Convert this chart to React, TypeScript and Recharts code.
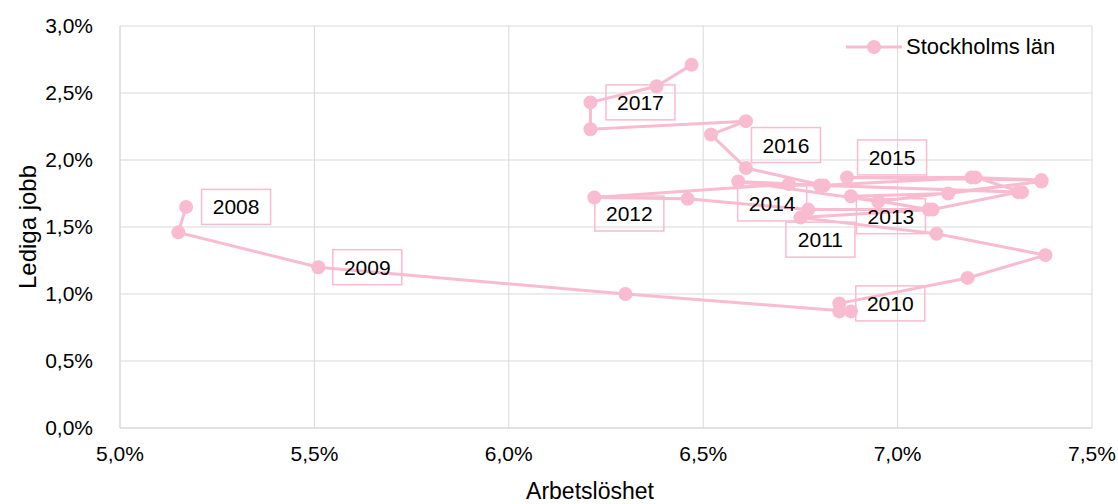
import React from 'react';
import { ScatterChart, Scatter, XAxis, YAxis, CartesianGrid, Legend } from 'recharts';

const PINK = '#F8BBD0';
const GRID = '#D9D9D9';
const FONT = '"Liberation Sans", Arial, sans-serif';

// one point per quarter, 2008 K3 .. 2017 K3
const periods = [
  '2008 K3', '2008 K4',
  '2009 K1', '2009 K2', '2009 K3', '2009 K4',
  '2010 K1', '2010 K2', '2010 K3', '2010 K4',
  '2011 K1', '2011 K2', '2011 K3', '2011 K4',
  '2012 K1', '2012 K2', '2012 K3', '2012 K4',
  '2013 K1', '2013 K2', '2013 K3', '2013 K4',
  '2014 K1', '2014 K2', '2014 K3', '2014 K4',
  '2015 K1', '2015 K2', '2015 K3', '2015 K4',
  '2016 K1', '2016 K2', '2016 K3', '2016 K4',
  '2017 K1', '2017 K2', '2017 K3',
];

const arbetsloshet = [
  5.17, 5.15,
  5.51, 6.30, 6.88, 6.85,
  6.85, 7.18, 7.38, 7.10,
  6.75, 7.09, 7.31, 6.72,
  6.22, 6.46, 6.77, 7.08,
  6.88, 7.13, 7.37, 6.95,
  6.59, 6.80, 7.19, 7.37,
  6.87, 7.20, 7.32, 6.81,
  6.61, 6.52, 6.61, 6.21,
  6.21, 6.38, 6.47,
];

const ledigaJobb = [
  1.65, 1.46,
  1.20, 1.00, 0.87, 0.87,
  0.93, 1.12, 1.29, 1.45,
  1.57, 1.63, 1.76, 1.82,
  1.72, 1.71, 1.63, 1.63,
  1.73, 1.75, 1.84, 1.69,
  1.84, 1.81, 1.87, 1.85,
  1.87, 1.87, 1.76, 1.81,
  1.94, 2.19, 2.29, 2.23,
  2.43, 2.55, 2.71,
];

const yearLabels = ['2008', '2009', '2010', '2011', '2012', '2013', '2014', '2015', '2016', '2017'];

const xTicks = [5, 5.5, 6, 6.5, 7, 7.5];
const yTicks = [0, 0.5, 1, 1.5, 2, 2.5, 3];

// where each year's box sits relative to its point (px)
const labelOffsets: Record<string, [number, number]> = {
  '2008': [50, 0],
  '2009': [49, 0],
  '2010': [51, 0],
  '2011': [20, 22],
  '2012': [35, 16],
  '2013': [40, 20],
  '2014': [34, 22],
  '2015': [45, -20],
  '2016': [40, -23],
  '2017': [50, 0],
};

const points = arbetsloshet.map((x, i) => ({ x, y: ledigaJobb[i], period: periods[i] }));

const labelPoints = yearLabels.map((year) => {
  const p = points.find((pt) => pt.period.startsWith(year))!;
  return { ...p, year };
});

const pct = (v: number) => `${v.toFixed(1).replace('.', ',')}%`;

const Dot = (props: any) => <circle cx={props.cx} cy={props.cy} r={7} fill={PINK} />;

const YearBox = (props: any) => {
  const { cx, cy, payload } = props;
  const [dx, dy] = labelOffsets[payload.year] || [50, 0];
  const w = 69;
  const h = 35;
  return (
    <g>
      <rect x={cx + dx - w / 2} y={cy + dy - h / 2} width={w} height={h} fill="none" stroke={PINK} strokeWidth={1.5} />
      <text
        x={cx + dx}
        y={cy + dy}
        textAnchor="middle"
        dominantBaseline="central"
        fontSize={21}
        fontFamily={FONT}
        fill="#000"
      >
        {payload.year}
      </text>
    </g>
  );
};

const renderLegend = () => (
  <div style={{ display: 'flex', alignItems: 'center', fontFamily: FONT, fontSize: 22, color: '#000' }}>
    <svg width={58} height={20}>
      <line x1={0} y1={10} x2={56} y2={10} stroke={PINK} strokeWidth={3} />
      <circle cx={28} cy={10} r={7} fill={PINK} />
    </svg>
    <span style={{ marginLeft: 2 }}>Stockholms län</span>
  </div>
);

const YTitle = (props: any) => {
  const vb = props.viewBox || {};
  const cy = (vb.y || 0) + (vb.height || 0) / 2;
  return (
    <text
      x={27}
      y={cy}
      transform={`rotate(-90, 27, ${cy})`}
      textAnchor="middle"
      dominantBaseline="central"
      fontSize={24}
      fontFamily={FONT}
      fill="#000"
    >
      Lediga jobb
    </text>
  );
};

const XTitle = (props: any) => {
  const vb = props.viewBox || {};
  const cx = (vb.x || 0) + (vb.width || 0) / 2 - 16;
  return (
    <text x={cx} y={499} textAnchor="middle" fontSize={23} fontFamily={FONT} fill="#000">
      Arbetslöshet
    </text>
  );
};

export default function App() {
  return (
    <div style={{ position: 'absolute', top: 0, left: 0, background: '#fff' }}>
      <ScatterChart width={1118} height={504} margin={{ top: 26, right: 26, bottom: 0, left: 0 }}>
        <CartesianGrid stroke={GRID} strokeWidth={1} />
        <XAxis
          dataKey="x"
          type="number"
          domain={[5, 7.5]}
          ticks={xTicks}
          tickFormatter={pct}
          tickLine={false}
          axisLine={{ stroke: GRID }}
          tickMargin={12}
          tick={{ fontSize: 21, fill: '#000', fontFamily: FONT }}
          height={76}
          label={<XTitle />}
        />
        <YAxis
          dataKey="y"
          type="number"
          domain={[0, 3]}
          ticks={yTicks}
          tickFormatter={pct}
          tickLine={false}
          axisLine={{ stroke: GRID }}
          tickMargin={21}
          width={120}
          tick={{ fontSize: 21, fill: '#000', fontFamily: FONT }}
          label={<YTitle />}
        />
        <Legend
          layout="horizontal"
          verticalAlign="middle"
          align="center"
          content={renderLegend}
          wrapperStyle={{ top: 34, left: 846, width: 260, height: 26 }}
        />
        <Scatter
          name="Stockholms län"
          data={points}
          fill={PINK}
          line={{ stroke: PINK, strokeWidth: 3 }}
          shape={Dot}
          isAnimationActive={false}
        />
        <Scatter data={labelPoints} shape={YearBox} legendType="none" isAnimationActive={false} />
      </ScatterChart>
    </div>
  );
}
